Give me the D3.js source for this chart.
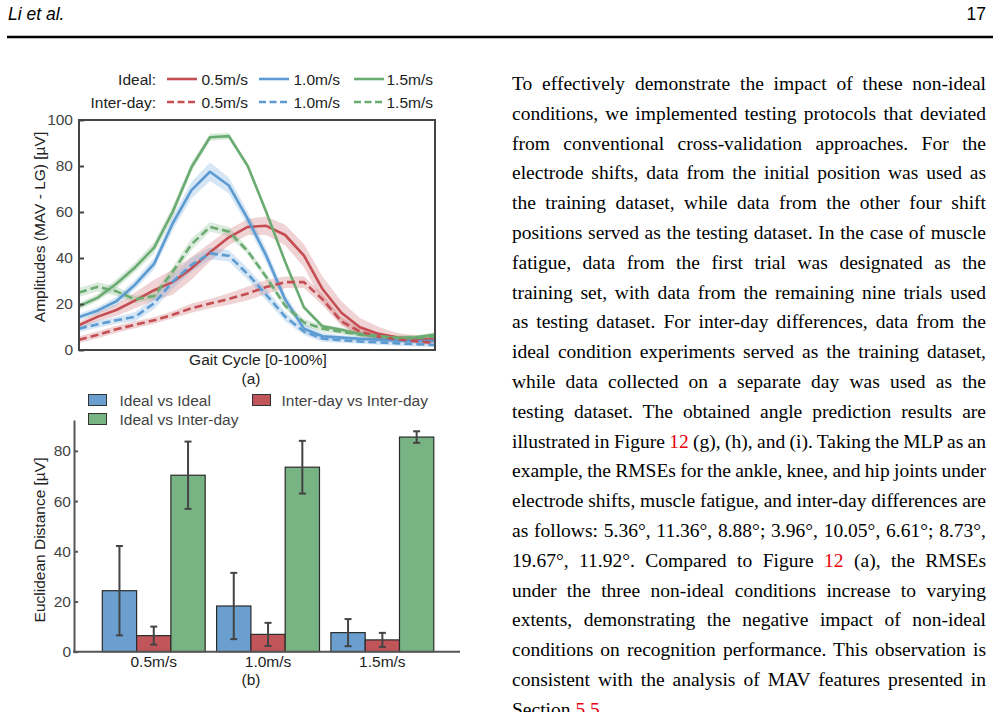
<!DOCTYPE html>
<html>
<head>
<meta charset="utf-8">
<script src="https://cdn.jsdelivr.net/npm/d3@7"></script>
<style>
  body { margin: 0; background: #fff; }
  svg { display: block; }
</style>
</head>
<body>
<svg id="page" width="1000" height="712"></svg>
<script>
// ---- data: (a) MAV amplitude over the gait cycle ----
const gaitCycle = [0, 5.3, 10.5, 15.8, 21.1, 26.3, 31.6, 36.8, 42.1, 47.4, 52.6, 57.9, 63.2, 68.4, 73.7, 78.9, 84.2, 89.5, 94.7, 100];

const ideal05 = [10.8, 14.5, 17.4, 21.6, 26, 29.5, 35.5, 42.5, 49, 53.5, 54, 50, 41, 26.5, 16.2, 9.9, 7, 5.4, 4.9, 4.6];
const ideal10 = [14.3, 17.2, 21.2, 28.5, 37.5, 55, 69.5, 77.5, 71.5, 57, 41, 22, 9.3, 6, 5.4, 4.9, 4.5, 4.1, 3.9, 4];
const ideal15 = [19, 22.8, 28.8, 36, 44.5, 60, 79.5, 92.5, 93, 80, 60, 38.4, 18.5, 10.3, 8.8, 7, 5.8, 5.2, 5.5, 6.7];
const inter05 = [4.5, 6.6, 9, 11, 12.9, 15.3, 18.2, 20.2, 22.2, 24.6, 27.4, 29.5, 29.5, 22, 12.5, 8, 5.8, 4.6, 3.8, 3];
const inter10 = [9.3, 11.2, 12.9, 14.5, 20.3, 29.7, 37, 42, 41, 33, 24, 14.5, 8, 5, 4.2, 3.7, 3.3, 2.9, 2.5, 2.2];
const inter15 = [25, 27.5, 25.5, 22, 23.5, 34, 46, 53.5, 51.5, 43, 31.7, 19.3, 12, 9.3, 7.9, 6.7, 6, 5.3, 5.2, 5.9];

// spread (half width of the shaded band)
const ideal05Sd = [1.5, 2, 2.5, 3.5, 4.5, 5.5, 5, 4, 3.5, 3.5, 4, 4.5, 5, 5.5, 5, 4, 3, 2, 1.5, 1.5];
const ideal10Sd = [1.5, 1.5, 2, 2, 2.5, 3, 3.5, 4, 3.5, 3, 3, 2.5, 2, 1.5, 1, 1, 1, 1, 1, 1];
const ideal15Sd = [1.5, 1.5, 2, 2, 2.5, 2.5, 2, 1.5, 1.5, 1, 1, 1, 1, 1, 1, 1, 1, 1, 1, 1];
const inter05Sd = [1.5, 1.5, 1.5, 1.5, 1.5, 1.5, 2, 2, 2.5, 3, 3, 2.5, 2.5, 2.5, 2, 1.5, 1, 1, 1, 1];
const inter10Sd = [1.5, 1.5, 1.5, 2, 2.5, 3, 3, 2.5, 2.5, 2.5, 2.5, 2, 1.5, 1.5, 1, 1, 1, 1, 1, 1];
const inter15Sd = [2, 2, 2, 1.5, 1.5, 2, 2.5, 2, 2, 1.5, 1.5, 1.5, 1.5, 1.5, 1, 1, 1, 1, 1, 1];

const amplitudeTicks = [0, 20, 40, 60, 80, 100];

// ---- data: (b) euclidean distance ----
const speeds = ['0.5m/s', '1.0m/s', '1.5m/s'];
const comparisons = ['Ideal vs Ideal', 'Inter-day vs Inter-day', 'Ideal vs Inter-day'];
const idealVsIdeal = [24.3, 18.2, 7.6];
const idealVsIdealErr = [17.8, 13.2, 5.4];
const interVsInter = [6.4, 6.9, 4.7];
const interVsInterErr = [3.6, 4.6, 2.8];
const idealVsInter = [70.3, 73.5, 85.5];
const idealVsInterErr = [13.4, 10.5, 2.3];
const distanceTicks = [0, 20, 40, 60, 80];

// ---- page text ----
const bodyLines = [
  'To effectively demonstrate the impact of these non-ideal',
  'conditions, we implemented testing protocols that deviated',
  'from conventional cross-validation approaches. For the',
  'electrode shifts, data from the initial position was used as',
  'the training dataset, while data from the other four shift',
  'positions served as the testing dataset. In the case of muscle',
  'fatigue, data from the first trial was designated as the',
  'training set, with data from the remaining nine trials used',
  'as testing dataset. For inter-day differences, data from the',
  'ideal condition experiments served as the training dataset,',
  'while data collected on a separate day was used as the',
  'testing dataset. The obtained angle prediction results are',
  'illustrated in Figure {12} (g), (h), and (i). Taking the MLP as an',
  'example, the RMSEs for the ankle, knee, and hip joints under',
  'electrode shifts, muscle fatigue, and inter-day differences are',
  'as follows: 5.36°, 11.36°, 8.88°; 3.96°, 10.05°, 6.61°; 8.73°,',
  '19.67°, 11.92°. Compared to Figure {12} (a), the RMSEs',
  'under the three non-ideal conditions increase to varying',
  'extents, demonstrating the negative impact of non-ideal',
  'conditions on recognition performance. This observation is',
  'consistent with the analysis of MAV features presented in',
  'Section {5.5}.'
];

const RED = '#c44e52', BLUE = '#5b9bd2', GREEN = '#6aab72';
const sans = '"Liberation Sans", Arial, sans-serif';
const serif = '"Liberation Serif", "Times New Roman", serif';
const svg = d3.select('#page');

// header
svg.append('text').attr('x', 8).attr('y', 20)
  .attr('font-family', sans).attr('font-style', 'italic').attr('font-size', 17.5)
  .text('Li et al.');
svg.append('text').attr('x', 986).attr('y', 20).attr('text-anchor', 'end')
  .attr('font-family', sans).attr('font-size', 17.5).text('17');
svg.append('line').attr('x1', 7).attr('x2', 993).attr('y1', 37).attr('y2', 37)
  .attr('stroke', '#000').attr('stroke-width', 2.5);

// =============== (a) line chart ===============
const xA = d3.scaleLinear().domain([0, 100]).range([79, 435]);
const yA = d3.scaleLinear().domain([0, 100]).range([350, 120]);

const series = [
  { label: '0.5m/s', values: ideal05, sd: ideal05Sd, color: RED, dashed: false },
  { label: '1.0m/s', values: ideal10, sd: ideal10Sd, color: BLUE, dashed: false },
  { label: '1.5m/s', values: ideal15, sd: ideal15Sd, color: GREEN, dashed: false },
  { label: '0.5m/s', values: inter05, sd: inter05Sd, color: RED, dashed: true },
  { label: '1.0m/s', values: inter10, sd: inter10Sd, color: BLUE, dashed: true },
  { label: '1.5m/s', values: inter15, sd: inter15Sd, color: GREEN, dashed: true }
];

const band = d3.area()
  .x((d, i) => xA(gaitCycle[i]))
  .y0((d, i) => yA(d.v - d.s))
  .y1((d, i) => yA(d.v + d.s));
const trace = d3.line()
  .x((d, i) => xA(gaitCycle[i]))
  .y(d => yA(d.v));

const plotA = svg.append('g');
series.forEach(s => {
  const pts = s.values.map((v, i) => ({ v: v, s: s.sd[i] }));
  plotA.append('path').datum(pts).attr('d', band)
    .attr('fill', s.color).attr('fill-opacity', 0.25);
});
series.forEach(s => {
  const pts = s.values.map((v, i) => ({ v: v, s: s.sd[i] }));
  plotA.append('path').datum(pts).attr('d', trace)
    .attr('fill', 'none').attr('stroke', s.color).attr('stroke-width', 2.6)
    .attr('stroke-linejoin', 'round')
    .attr('stroke-dasharray', s.dashed ? '8,4' : null);
});

// frame + ticks
svg.append('rect').attr('x', 79).attr('y', 120).attr('width', 356).attr('height', 230)
  .attr('fill', 'none').attr('stroke', '#444').attr('stroke-width', 2);

const axA = svg.append('g').attr('transform', 'translate(79,0)')
  .call(d3.axisLeft(yA).tickValues(amplitudeTicks).tickSize(-5).tickPadding(6));
axA.select('.domain').remove();
axA.selectAll('line').attr('stroke', '#444').attr('stroke-width', 2);
axA.selectAll('text').attr('font-family', sans).attr('font-size', 15.5).attr('fill', '#444');

svg.append('text').attr('transform', 'translate(45,227) rotate(-90)')
  .attr('text-anchor', 'middle').attr('font-family', sans).attr('font-size', 15.5).attr('fill', '#222')
  .text('Amplitudes (MAV - LG) [µV]');
svg.append('text').attr('x', 258).attr('y', 365).attr('text-anchor', 'middle')
  .attr('font-family', sans).attr('font-size', 15.5).attr('fill', '#222')
  .text('Gait Cycle [0-100%]');
svg.append('text').attr('x', 251).attr('y', 384).attr('text-anchor', 'middle')
  .attr('font-family', sans).attr('font-size', 15.5).attr('fill', '#222').text('(a)');

// legend (a)
const legendRows = [{ title: 'Ideal:', y: 79, dashed: false }, { title: 'Inter-day:', y: 102, dashed: true }];
const legendCols = [{ x: 167, color: RED }, { x: 259, color: BLUE }, { x: 354, color: GREEN }];
legendRows.forEach((row, r) => {
  svg.append('text').attr('x', 156).attr('y', row.y + 5.5).attr('text-anchor', 'end')
    .attr('font-family', sans).attr('font-size', 15.5).attr('fill', '#222').text(row.title);
  legendCols.forEach((col, c) => {
    const s = series[r * 3 + c];
    svg.append('line').attr('x1', col.x).attr('x2', col.x + 30).attr('y1', row.y).attr('y2', row.y)
      .attr('stroke', col.color).attr('stroke-width', 2.6)
      .attr('stroke-dasharray', row.dashed ? '7,3.5' : null);
    svg.append('text').attr('x', col.x + (c === 2 ? 32.5 : 34.5)).attr('y', row.y + 5.5)
      .attr('font-family', sans).attr('font-size', 15.5).attr('fill', '#222').text(s.label);
  });
});

// =============== (b) bar chart ===============
const groups = [
  { name: comparisons[0], values: idealVsIdeal, err: idealVsIdealErr, color: '#6a9fd0' },
  { name: comparisons[1], values: interVsInter, err: interVsInterErr, color: '#c0555a' },
  { name: comparisons[2], values: idealVsInter, err: idealVsInterErr, color: '#78b384' }
];

const xB = d3.scaleBand().domain(speeds).range([96.6, 439.5]).paddingInner(0.1).paddingOuter(0.05);
const xSub = d3.scaleBand().domain(comparisons).range([0, xB.bandwidth()]);
const yB = d3.scaleLinear().domain([0, 92.3]).range([651.7, 420]);

const bars = [];
speeds.forEach((sp, i) => groups.forEach(g => bars.push({ speed: sp, comp: g.name, v: g.values[i], e: g.err[i], color: g.color })));

svg.append('g').selectAll('rect').data(bars).join('rect')
  .attr('x', d => xB(d.speed) + xSub(d.comp))
  .attr('y', d => yB(d.v))
  .attr('width', xSub.bandwidth())
  .attr('height', d => yB(0) - yB(d.v))
  .attr('fill', d => d.color)
  .attr('stroke', '#2b2b2b').attr('stroke-width', 1.2);

const errG = svg.append('g').attr('stroke', '#444').attr('stroke-width', 2);
bars.forEach(d => {
  const cx = xB(d.speed) + xSub(d.comp) + xSub.bandwidth() / 2;
  errG.append('line').attr('x1', cx).attr('x2', cx).attr('y1', yB(d.v - d.e)).attr('y2', yB(d.v + d.e));
  [d.v - d.e, d.v + d.e].forEach(t => errG.append('line')
    .attr('x1', cx - 3.5).attr('x2', cx + 3.5).attr('y1', yB(t)).attr('y2', yB(t)));
});

const axB = svg.append('g').attr('transform', 'translate(74,0)')
  .call(d3.axisLeft(yB).tickValues(distanceTicks).tickSize(-4).tickSizeOuter(0).tickPadding(3));
axB.selectAll('path,line').attr('stroke', '#555').attr('stroke-width', 2);
axB.selectAll('text').attr('font-family', sans).attr('font-size', 15.5).attr('fill', '#444');

const axBx = svg.append('g').attr('transform', 'translate(0,' + yB(0) + ')')
  .call(d3.axisBottom(xB).tickSize(0).tickPadding(4.5));
axBx.select('.domain').remove();
axBx.selectAll('text').attr('font-family', sans).attr('font-size', 15.5).attr('fill', '#222');
svg.append('line').attr('x1', 73).attr('x2', 460).attr('y1', yB(0)).attr('y2', yB(0))
  .attr('stroke', '#555').attr('stroke-width', 2);

svg.append('text').attr('transform', 'translate(45,540) rotate(-90)')
  .attr('text-anchor', 'middle').attr('font-family', sans).attr('font-size', 15.5).attr('fill', '#222')
  .text('Euclidean Distance [µV]');
svg.append('text').attr('x', 251).attr('y', 685).attr('text-anchor', 'middle')
  .attr('font-family', sans).attr('font-size', 15.5).attr('fill', '#222').text('(b)');

// legend (b)
const legendB = [[88.5, 394.5], [252.5, 394.5], [88.5, 413.5]];
groups.forEach((g, i) => {
  const [lx, ly] = legendB[i];
  svg.append('rect').attr('x', lx).attr('y', ly).attr('width', 18).attr('height', 11)
    .attr('fill', g.color).attr('stroke', '#333').attr('stroke-width', 1);
  svg.append('text').attr('x', lx + (i === 1 ? 29 : 31)).attr('y', ly + 11)
    .attr('font-family', sans).attr('font-size', 15.5).attr('fill', '#444').text(g.name);
});

// =============== body text (justified) ===============
const textLeft = 512, textRight = 986;
bodyLines.forEach((ln, i) => {
  const t = svg.append('text').attr('x', textLeft).attr('y', 90 + i * 29.8)
    .attr('font-family', serif).attr('font-size', 19.5).attr('fill', '#000');
  ln.split(/(\{[^}]+\})/).filter(p => p.length).forEach(p => {
    const isRef = p[0] === '{';
    t.append('tspan').text(isRef ? p.slice(1, -1) : p).attr('fill', isRef ? '#e8000b' : null);
  });
  if (i < bodyLines.length - 1) {
    const w = t.node().getComputedTextLength();
    const gaps = (ln.match(/ /g) || []).length;
    if (gaps) t.attr('word-spacing', (textRight - textLeft - w) / gaps);
  }
});
</script>
</body>
</html>
